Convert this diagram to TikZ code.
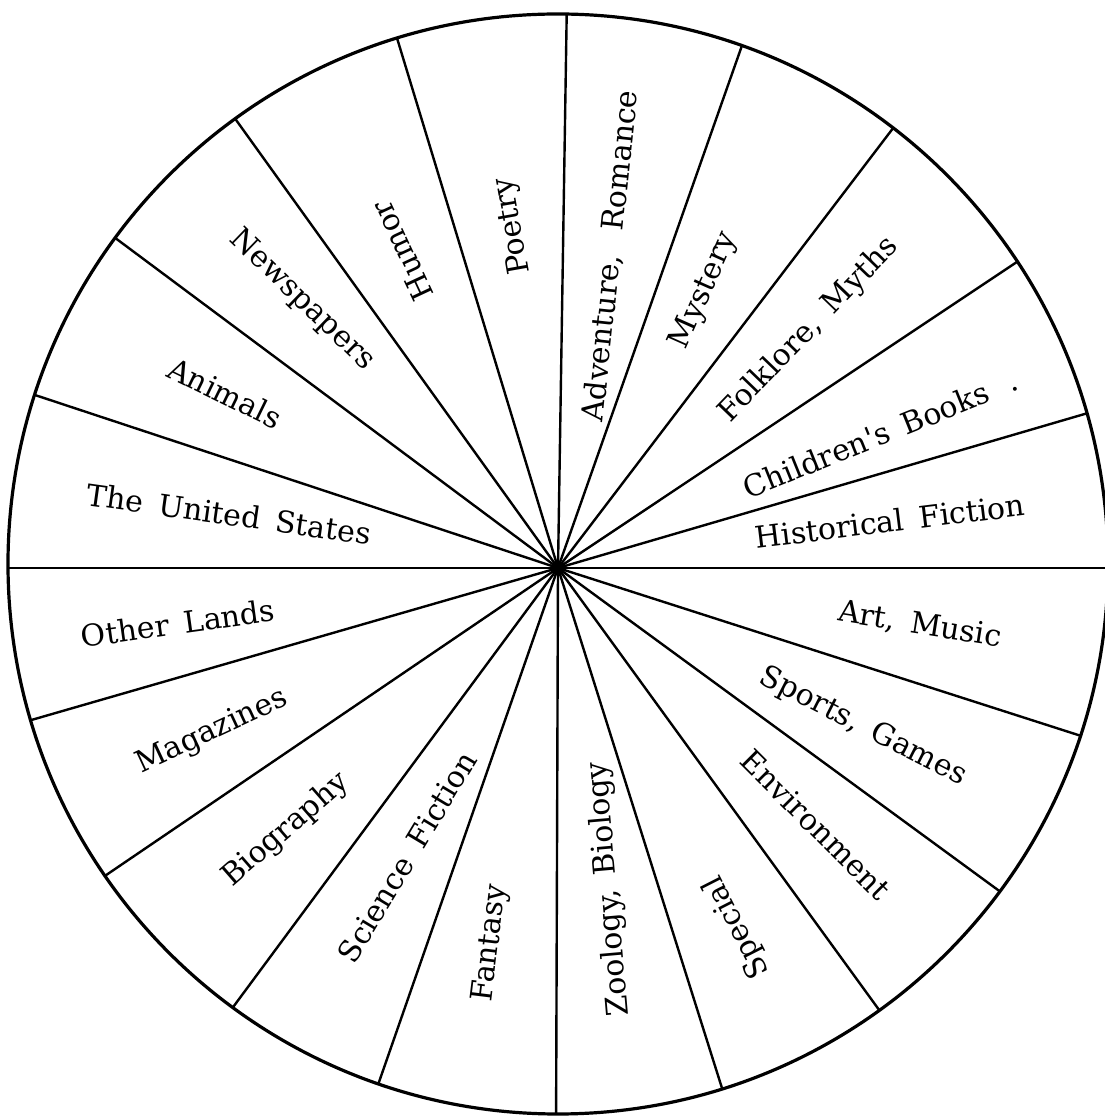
\documentclass[tikz,border=0pt]{standalone}
\usepackage{fontspec}
\setmainfont{DejaVu Serif}[WordSpace=1.6]
\begin{document}
\begin{tikzpicture}[x=1pt,y=1pt,
  lbl/.style={font=\fontsize{30}{36}\selectfont, inner sep=0pt},
  rim/.style={line width=3.2pt},
  spoke/.style={line width=2.4pt}]
\useasboundingbox (0,0) rectangle (1105,1117);
\fill[white] (0,0) rectangle (1105,1117);
\coordinate (hub) at (558,549);
\coordinate (c) at (558,553);
\begin{scope}
  \clip (c) circle[radius=550pt];
  \foreach \a in {89.1,70.6,52.7,33.7,16.3,0,-17.8,-36.2,-54.0,-72.5,-90.2,-109.2,-126.5,-145.8,-163.9,180,161.7,143.3,125.7,106.9}
    \draw[spoke] (hub) -- ++(\a:620pt);
\end{scope}
\draw[rim] (c) circle[radius=550pt];
\fill (hub) circle[radius=7pt];
% labels
\node[lbl, rotate=100] (poetry) at (513,891) {Poetry};
\node[lbl, rotate=115] (humor) at (402,866) {Humor};
\node[lbl, rotate=-44] (news) at (302,817) {Newspapers};
\node[lbl, rotate=-26] (animals) at (225,724) {Animals};
\node[lbl, rotate=-8] (us) at (229,603) {The United States};
\node[lbl, rotate=8] (other) at (178,494) {Other Lands};
\node[lbl, rotate=25] (mag) at (212,385) {Magazines};
\node[lbl, rotate=41] (bio) at (286,287) {Biography};
\node[lbl, rotate=59] (scifi) at (407,260) {Science Fiction};
\node[lbl, rotate=83] (fantasy) at (491,174) {Fantasy};
\node[lbl, rotate=95] (zoo) at (609,228) {Zoology, Biology};
\node[lbl, rotate=117] (special) at (737,190) {Special};
\node[lbl, rotate=-45] (env) at (816,292) {Environment};
\node[lbl, rotate=-27] (sports) at (863,390) {Sports, Games};
\node[lbl, rotate=-9] (art) at (920,492) {Art, Music};
\node[lbl, rotate=7] (hist) at (890,596) {Historical Fiction};
\node[lbl, rotate=22] (child) at (880,683) {Children\textquotesingle s Books\hspace{0.2em} .};
\node[lbl, rotate=46] (folk) at (809,787) {Folklore, Myths};
\node[lbl, rotate=66] (myst) at (704,826) {Mystery};
\node[lbl, rotate=84] (adv) at (611,861) {Adventure,\hspace{0.3em} Romance};
\end{tikzpicture}
\end{document}
